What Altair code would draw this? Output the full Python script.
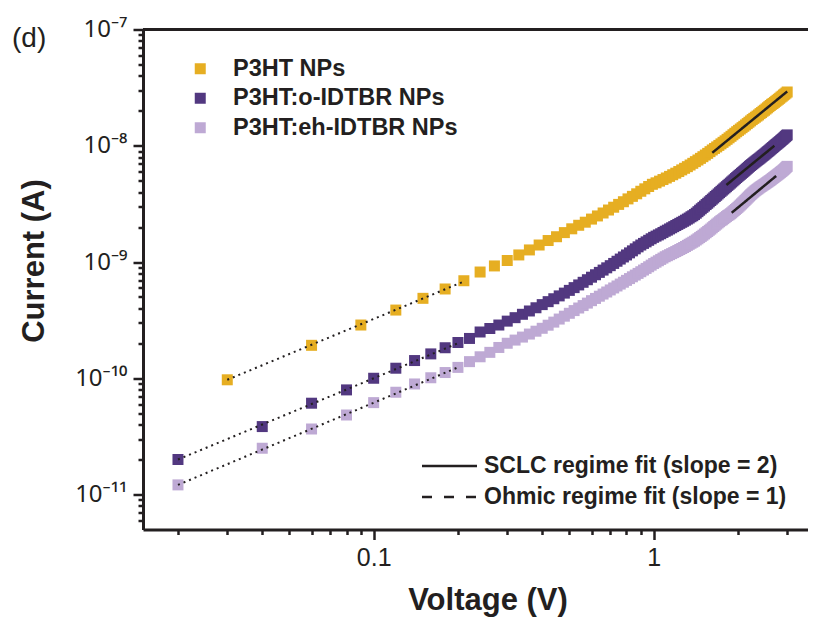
import altair as alt
import pandas as pd

INK = "#231f20"
FONT = "Liberation Sans"

series_names = ["P3HT NPs", "P3HT:o-IDTBR NPs", "P3HT:eh-IDTBR NPs"]
series_colors = ["#E6AE22", "#523880", "#BEA9D4"]
fit_names = ["SCLC regime fit (slope = 2)", "Ohmic regime fit (slope = 1)"]
panel_label = ["(d)"]

# P3HT NPs sweep (V) and current (units of 1e-10 A)
v_p3ht = [0.03, 0.06, 0.09, 0.12, 0.15, 0.18, 0.21, 0.24, 0.27, 0.30, 0.33, 0.36, 0.39, 0.42, 0.45,
          0.48, 0.51, 0.54, 0.57, 0.60, 0.63, 0.66, 0.69, 0.72, 0.75, 0.78, 0.81, 0.84, 0.87, 0.90,
          0.93, 0.96, 0.99, 1.02, 1.05, 1.08, 1.11, 1.14, 1.17, 1.20, 1.23, 1.26, 1.29, 1.32, 1.35,
          1.38, 1.41, 1.44, 1.47, 1.50, 1.53, 1.56, 1.59, 1.62, 1.65, 1.68, 1.71, 1.74, 1.77, 1.80,
          1.83, 1.86, 1.89, 1.92, 1.95, 1.98, 2.01, 2.04, 2.07, 2.10, 2.13, 2.16, 2.19, 2.22, 2.25,
          2.28, 2.31, 2.34, 2.37, 2.40, 2.43, 2.46, 2.49, 2.52, 2.55, 2.58, 2.61, 2.64, 2.67, 2.70,
          2.73, 2.76, 2.79, 2.82, 2.85, 2.88, 2.91, 2.94, 2.97, 3.00]
i_p3ht = [0.97, 1.92, 2.87, 3.86, 4.87, 5.86, 6.90, 8.20, 9.25, 10.3, 11.5, 12.7, 14.0, 15.3, 16.5,
          17.9, 19.3, 20.7, 22.0, 23.4, 24.9, 26.4, 28.0, 29.6, 31.3, 33.0, 34.9, 36.7, 38.6, 40.6,
          42.6, 44.6, 46.6, 48.0, 49.6, 51.2, 52.8, 54.5, 56.3, 58.1, 60.0, 62.0, 64.0, 66.1, 68.3,
          70.6, 73.0, 75.4, 77.9, 80.5, 83.2, 86.0, 89.0, 92.0, 94.8, 97.7, 100.7, 103.8, 107.0, 110.2,
          113.6, 117.0, 120.6, 124.3, 128.1, 132.0, 135.6, 139.3, 143.1, 147.0, 151.0, 155.1, 159.3, 163.6, 168.0,
          172, 176, 180, 184, 189, 193, 198, 202, 207, 212, 217, 222, 227, 231, 236,
          241, 246, 251, 256, 262, 267, 273, 278, 284, 290]

# blend sweeps (V)
v_blend = [0.02, 0.04, 0.06, 0.08, 0.10, 0.12, 0.14, 0.16, 0.18, 0.20, 0.22, 0.24, 0.26, 0.28, 0.30,
           0.32, 0.34, 0.36, 0.38, 0.40, 0.42, 0.44, 0.46, 0.48, 0.50, 0.52, 0.54, 0.56, 0.58, 0.60,
           0.62, 0.64, 0.66, 0.68, 0.70, 0.72, 0.74, 0.76, 0.78, 0.80, 0.82, 0.84, 0.86, 0.88, 0.90,
           0.92, 0.94, 0.96, 0.98, 1.00, 1.02, 1.04, 1.06, 1.08, 1.10, 1.12, 1.14, 1.16, 1.18, 1.20,
           1.22, 1.24, 1.26, 1.28, 1.30, 1.32, 1.34, 1.36, 1.38, 1.40, 1.42, 1.44, 1.46, 1.48, 1.50,
           1.52, 1.54, 1.56, 1.58, 1.60, 1.62, 1.64, 1.66, 1.68, 1.70, 1.72, 1.74, 1.76, 1.78, 1.80,
           1.82, 1.84, 1.86, 1.88, 1.90, 1.92, 1.94, 1.96, 1.98, 2.00, 2.02, 2.04, 2.06, 2.08, 2.10,
           2.12, 2.14, 2.16, 2.18, 2.20, 2.22, 2.24, 2.26, 2.28, 2.30, 2.32, 2.34, 2.36, 2.38, 2.40,
           2.42, 2.44, 2.46, 2.48, 2.50, 2.52, 2.54, 2.56, 2.58, 2.60, 2.62, 2.64, 2.66, 2.68, 2.70,
           2.72, 2.74, 2.76, 2.78, 2.80, 2.82, 2.84, 2.86, 2.88, 2.90, 2.92, 2.94, 2.96, 2.98, 3.00]
# P3HT:o-IDTBR NPs current (units of 1e-10 A)
i_oidtbr = [0.200, 0.384, 0.610, 0.794, 1.00, 1.22, 1.42, 1.62, 1.83, 2.03, 2.20, 2.50, 2.68, 2.87, 3.10,
            3.32, 3.55, 3.79, 4.04, 4.30, 4.56, 4.83, 5.11, 5.40, 5.70, 6.02, 6.35, 6.69, 7.04, 7.40,
            7.77, 8.14, 8.52, 8.91, 9.30, 9.72, 10.15, 10.6, 11.05, 11.5, 11.98, 12.47, 12.98, 13.5, 14.0,
            14.45, 14.9, 15.37, 15.84, 16.3, 16.7, 17.1, 17.5, 17.95, 18.4, 18.8, 19.25, 19.7, 20.15, 20.6,
            21.05, 21.5, 21.95, 22.4, 22.9, 23.4, 23.9, 24.5, 25.0, 25.6, 26.3, 27.1, 27.9, 28.7, 29.5,
            30.3, 31.2, 32.0, 32.9, 33.8, 34.7, 35.6, 36.6, 37.5, 38.5, 39.5, 40.5, 41.5, 42.5, 43.5,
            44.5, 45.6, 46.6, 47.7, 48.8, 49.9, 51.0, 52.2, 53.3, 54.5, 55.6, 56.7, 57.9, 59.0, 60.2,
            61.4, 62.7, 63.9, 65.2, 66.5, 67.7, 68.9, 70.1, 71.3, 72.5, 73.7, 74.9, 76.1, 77.3, 78.5,
            79.8, 81.1, 82.4, 83.7, 85.0, 86.4, 87.8, 89.2, 90.6, 92.0, 93.5, 95.0, 96.5, 98.0, 99.5,
            101, 102.5, 104, 105.5, 107, 108.6, 110.2, 111.8, 113.4, 115, 116.8, 118.6, 120.4, 122.2, 124]
# P3HT:eh-IDTBR NPs current (units of 1e-10 A)
i_ehidtbr = [0.121, 0.250, 0.366, 0.483, 0.617, 0.758, 0.893, 1.01, 1.12, 1.24, 1.39, 1.53, 1.67, 1.84, 2.00,
             2.13, 2.26, 2.40, 2.54, 2.69, 2.86, 3.04, 3.23, 3.42, 3.62, 3.82, 4.02, 4.22, 4.43, 4.65,
             4.86, 5.08, 5.30, 5.52, 5.75, 5.98, 6.22, 6.46, 6.70, 6.95, 7.20, 7.46, 7.72, 7.98, 8.25,
             8.53, 8.81, 9.10, 9.40, 9.70, 9.97, 10.25, 10.53, 10.81, 11.1, 11.33, 11.57, 11.81, 12.05, 12.3,
             12.55, 12.81, 13.07, 13.33, 13.6, 13.9, 14.2, 14.5, 14.8, 15.1, 15.47, 15.84, 16.22, 16.6, 17.0,
             17.43, 17.86, 18.3, 18.75, 19.2, 19.7, 20.2, 20.7, 21.2, 21.7, 22.2, 22.7, 23.1, 23.6, 24.1,
             24.6, 25.1, 25.5, 26.0, 26.5, 27.1, 27.7, 28.3, 28.9, 29.5, 30.2, 30.9, 31.6, 32.3, 33.0,
             33.8, 34.6, 35.4, 36.2, 37.0, 37.8, 38.5, 39.3, 40.0, 40.8, 41.4, 42.1, 42.7, 43.4, 44.0,
             44.6, 45.2, 45.8, 46.4, 47.0, 47.6, 48.3, 48.9, 49.6, 50.2, 50.9, 51.6, 52.4, 53.1, 53.8,
             54.5, 55.3, 56.0, 56.8, 57.5, 58.3, 59.1, 59.9, 60.7, 61.5, 62.5, 63.5, 64.5, 65.5, 66.5]

# fit line end points (V, A)
ohmic_v = {"P3HT NPs": [0.03, 0.21], "P3HT:o-IDTBR NPs": [0.02, 0.20], "P3HT:eh-IDTBR NPs": [0.02, 0.20]}
ohmic_i = {"P3HT NPs": [9.7e-11, 6.8e-10], "P3HT:o-IDTBR NPs": [2.0e-11, 2.0e-10], "P3HT:eh-IDTBR NPs": [1.21e-11, 1.24e-10]}
sclc_v = {"P3HT NPs": [1.62, 3.0], "P3HT:o-IDTBR NPs": [1.82, 2.70], "P3HT:eh-IDTBR NPs": [1.90, 2.74]}
sclc_i = {"P3HT NPs": [8.7e-9, 2.93e-8], "P3HT:o-IDTBR NPs": [4.6e-9, 1.0e-8], "P3HT:eh-IDTBR NPs": [2.65e-9, 5.5e-9]}

x_ticks = [0.02, 0.03, 0.04, 0.05, 0.06, 0.07, 0.08, 0.09, 0.1, 0.2, 0.3, 0.4, 0.5, 0.6, 0.7, 0.8, 0.9, 1, 2, 3]
y_ticks = [6e-12, 7e-12, 8e-12, 9e-12,
           1e-11, 2e-11, 3e-11, 4e-11, 5e-11, 6e-11, 7e-11, 8e-11, 9e-11,
           1e-10, 2e-10, 3e-10, 4e-10, 5e-10, 6e-10, 7e-10, 8e-10, 9e-10,
           1e-9, 2e-9, 3e-9, 4e-9, 5e-9, 6e-9, 7e-9, 8e-9, 9e-9,
           1e-8, 2e-8, 3e-8, 4e-8, 5e-8, 6e-8, 7e-8, 8e-8, 9e-8, 1e-7]

# ---- tables ----
rows = []
for v, i in zip(v_p3ht, i_p3ht):
    rows.append({"voltage": v, "current": i * 1e-10, "series": series_names[0]})
for v, i in zip(v_blend, i_oidtbr):
    rows.append({"voltage": v, "current": i * 1e-10, "series": series_names[1]})
for v, i in zip(v_blend, i_ehidtbr):
    rows.append({"voltage": v, "current": i * 1e-10, "series": series_names[2]})
df_points = pd.DataFrame(rows)

ohm_rows, sclc_rows = [], []
for s in series_names:
    for v, i in zip(ohmic_v[s], ohmic_i[s]):
        ohm_rows.append({"voltage": v, "current": i, "series": s})
    for v, i in zip(sclc_v[s], sclc_i[s]):
        sclc_rows.append({"voltage": v, "current": i, "series": s, "fit": fit_names[0]})
df_ohmic = pd.DataFrame(ohm_rows)
df_sclc = pd.DataFrame(sclc_rows)

LOG = "log(datum.value)/LN10"
major_test = f"abs({LOG} - round({LOG})) < 0.001"

x_label_expr = f"abs({LOG} + 1) < 0.001 ? '0.1' : abs({LOG}) < 0.001 ? '1' : ''"
y_label_expr = (
    f"abs({LOG} + 7) < 0.001 ? '10⁻⁷' : "
    f"abs({LOG} + 8) < 0.001 ? '10⁻⁸' : "
    f"abs({LOG} + 9) < 0.001 ? '10⁻⁹' : "
    f"abs({LOG} + 10) < 0.001 ? '10⁻¹⁰' : "
    f"abs({LOG} + 11) < 0.001 ? '10⁻¹¹' : ''"
)

tick_size = {"condition": {"test": major_test, "value": 10}, "value": 5}

x_axis = alt.Axis(
    values=x_ticks, labelExpr=x_label_expr, title="Voltage (V)", grid=False,
    domainColor=INK, domainWidth=3, tickColor=INK, tickWidth=2.5, tickSize=tick_size,
    labelFont=FONT, labelFontSize=25, labelColor=INK, labelPadding=6,
    labelFlush=False, labelOverlap=False,
    titleFont=FONT, titleFontSize=31, titleFontWeight="bold", titleColor=INK,
    titleX=344.5, titleY=80, titleBaseline="alphabetic", titleAlign="center",
)
y_axis = alt.Axis(
    values=y_ticks, labelExpr=y_label_expr, title="Current (A)", grid=False,
    domainColor=INK, domainWidth=3, tickColor=INK, tickWidth=2.5, tickSize=tick_size,
    labelFont="Noto Sans", labelFontSize=24, labelColor=INK, labelPadding=6,
    labelFlush=False, labelOverlap=False,
    titleFont=FONT, titleFontSize=31, titleFontWeight="bold", titleColor=INK,
    titleX=-100, titleY=231, titleAngle=-90, titleBaseline="alphabetic", titleAlign="center",
)

x_scale = alt.Scale(type="log", domain=[0.015, 3.56], nice=False)
y_scale = alt.Scale(type="log", domain=[5e-12, 1e-7], nice=False)
x_enc = alt.X("voltage:Q", scale=x_scale, axis=x_axis)
y_enc = alt.Y("current:Q", scale=y_scale, axis=y_axis)

points = alt.Chart(df_points).mark_square(size=121, opacity=1).encode(
    x=x_enc, y=y_enc,
    color=alt.Color(
        "series:N",
        scale=alt.Scale(domain=series_names, range=series_colors),
        legend=alt.Legend(
            orient="none", legendX=45.5, legendY=27.5, title=None, padding=0,
            symbolType="square", symbolSize=121, symbolStrokeWidth=0, symbolOpacity=1,
            labelFont=FONT, labelFontSize=23.5, labelFontWeight="bold", labelColor=INK,
            labelOffset=21, rowPadding=4.5, labelLimit=500,
        ),
    ),
)

ohmic = alt.Chart(df_ohmic).mark_line(color=INK, strokeWidth=2, strokeDash=[2, 4]).encode(
    x=x_enc, y=y_enc, detail="series:N"
)

sclc = alt.Chart(df_sclc).mark_line(color=INK, strokeWidth=2.5).encode(
    x=x_enc, y=y_enc, detail="series:N",
    strokeDash=alt.StrokeDash(
        "fit:N",
        scale=alt.Scale(domain=fit_names, range=[[1, 0], [10, 12]]),
        legend=alt.Legend(
            orient="none", legendX=277.5, legendY=425, title=None, padding=0,
            symbolType="stroke", symbolSize=3025, symbolStrokeWidth=2.5, symbolStrokeColor=INK,
            labelFont=FONT, labelFontSize=23, labelFontWeight="bold", labelColor=INK,
            labelOffset=5.5, rowPadding=7, clipHeight=23, labelLimit=500,
        ),
    ),
)

top_edge = alt.Chart(pd.DataFrame({"edge": ["top"]})).mark_rule(color=INK, strokeWidth=3).encode(
    y=alt.value(0)
)

panel = alt.Chart(pd.DataFrame({"label": panel_label})).mark_text(
    font=FONT, fontSize=28, color=INK, align="left", baseline="alphabetic"
).encode(text="label:N", x=alt.value(-131), y=alt.value(17.5))

chart = alt.layer(points, ohmic, sclc, top_edge, panel).properties(
    width=665, height=500,
    autosize=alt.AutoSizeParams(type="none"),
    padding={"left": 135, "top": 21.5, "right": 0, "bottom": 87.5},
).configure_view(strokeWidth=0).configure(background="white")

chart.save("out.html", embed_options={"renderer": "svg", "actions": False})
